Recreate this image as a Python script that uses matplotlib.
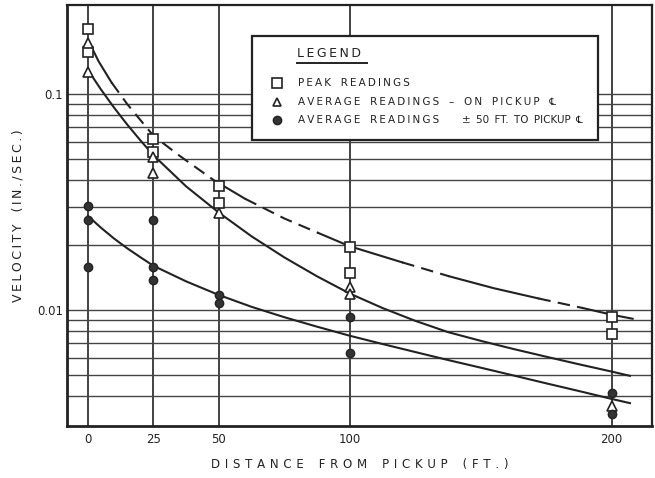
import matplotlib
matplotlib.use('Agg')
import matplotlib.pyplot as plt
from matplotlib.patches import Rectangle

# readings (distance ft, velocity in/sec)
peak_x = [0, 0, 25, 25, 50, 50, 100, 100, 200, 200]
peak_v = [0.200, 0.156, 0.062, 0.054, 0.0375, 0.0312, 0.0195, 0.0148, 0.0093, 0.0077]

avg_on_x = [0, 0, 25, 25, 50, 100, 100, 200]
avg_on_v = [0.172, 0.126, 0.051, 0.043, 0.0281, 0.0128, 0.0119, 0.0036]

avg_off_x = [0, 0, 0, 25, 25, 25, 50, 50, 100, 100, 200, 200]
avg_off_v = [0.0303, 0.0261, 0.0158, 0.0261, 0.0158, 0.0138, 0.0117, 0.0108,
             0.0093, 0.0063, 0.00414, 0.0033]

# fitted curves
peak_curve_x = [0, 4, 9, 15, 25, 35, 48, 60, 75, 88, 100, 120, 138, 155, 172, 189, 200, 208]
peak_curve_v = [0.178, 0.142, 0.113, 0.0897, 0.064, 0.0517, 0.0399, 0.0327, 0.0265,
                0.0227, 0.0197, 0.0166, 0.0143, 0.0126, 0.0113, 0.0102, 0.0095, 0.0091]
# (first index, last index, dashed?)
peak_segments = [(0, 2, False), (2, 6, True), (6, 7, False), (7, 9, True),
                 (9, 11, False), (11, 12, True), (12, 14, False), (14, 15, True),
                 (15, 17, False)]

mid_curve_x = [0, 5, 10, 15, 20, 25, 37.5, 50, 62.5, 75, 87.5, 100, 112.5, 125,
               137.5, 150, 162.5, 175, 187.5, 200, 207]
mid_curve_v = [0.1291, 0.1047, 0.0863, 0.0721, 0.0610, 0.0520, 0.0373, 0.0282,
               0.0219, 0.0175, 0.0143, 0.0119, 0.0102, 0.00890, 0.00789, 0.00719,
               0.00659, 0.00607, 0.00560, 0.00518, 0.00495]

low_curve_x = [0, 5, 10, 15, 20, 25, 37.5, 50, 62.5, 75, 87.5, 100, 112.5, 125,
               137.5, 150, 162.5, 175, 187.5, 200, 207]
low_curve_v = [0.02723, 0.02399, 0.02138, 0.01928, 0.01754, 0.01600, 0.01355, 0.01172,
               0.01033, 0.00925, 0.00836, 0.00759, 0.00695, 0.00638, 0.00586, 0.00540,
               0.00497, 0.00457, 0.00421, 0.00387, 0.00370]

x_ticks = [0, 25, 50, 100, 200]
y_major = [0.01, 0.1]
y_major_labels = ['0.01', '0.1']
y_minor = [0.004, 0.005, 0.006, 0.007, 0.008, 0.009,
           0.02, 0.03, 0.04, 0.05, 0.06, 0.07, 0.08, 0.09]

legend_labels = [('PEAK READINGS', ''),
                 ('AVERAGE READINGS \u2013 ON PICKUP \u2104', ''),
                 ('AVERAGE READINGS', '\u00b1 50 FT. TO PICKUP \u2104')]

ink = '#222222'


def spaced(s, gap='\u2009', word='   '):
    # letter spaced lettering like the original drafting stencil
    return word.join(gap.join(w) for w in s.split(' '))


fig = plt.figure(figsize=(6.55, 4.78), dpi=100)
ax = fig.add_axes([0.1023, 0.1088, 0.8931, 0.8807])

ax.set_yscale('log')
ax.set_xlim(-8, 215.4)
ax.set_ylim(0.0029, 0.258)

ax.set_xticks(x_ticks)
ax.set_xticklabels([str(t) for t in x_ticks])
ax.set_yticks(y_major)
ax.set_yticklabels(y_major_labels)
ax.set_yticks(y_minor, minor=True)
ax.yaxis.set_minor_formatter(plt.NullFormatter())
ax.tick_params(which='both', length=0, labelsize=8.5, colors=ink, pad=5)
ax.tick_params(axis='y', pad=3)

ax.grid(axis='y', which='both', color='#444444', linewidth=1.0)
ax.grid(axis='x', which='major', color=ink, linewidth=1.2)
ax.set_axisbelow(True)

for side in ['left', 'bottom']:
    ax.spines[side].set_linewidth(2.0)
for side in ['top', 'right']:
    ax.spines[side].set_linewidth(1.6)
for sp in ax.spines.values():
    sp.set_color(ink)

# curves
for i0, i1, dashed in peak_segments:
    ax.plot(peak_curve_x[i0:i1 + 1], peak_curve_v[i0:i1 + 1], color=ink, lw=1.5,
            linestyle=(0, (6, 3.5)) if dashed else '-', zorder=3)
ax.plot(mid_curve_x, mid_curve_v, color=ink, lw=1.5, zorder=3)
ax.plot(low_curve_x, low_curve_v, color=ink, lw=1.5, zorder=3)

# points
ax.plot(peak_x, peak_v, linestyle='none', marker='s', ms=7, mfc='white', mec=ink, mew=1.2, zorder=4)
ax.plot(avg_on_x, avg_on_v, linestyle='none', marker='^', ms=7, mfc='white', mec=ink, mew=1.2, zorder=4)
ax.plot(avg_off_x, avg_off_v, linestyle='none', marker='o', ms=6, mfc='#333333', mec=ink, mew=1.0, zorder=4)

# legend box
ax.add_patch(Rectangle((0.316, 0.679), 0.592, 0.247, transform=ax.transAxes,
                       facecolor='white', edgecolor=ink, lw=1.6, zorder=5))
ax.text(0.393, 0.886, spaced('LEGEND'), transform=ax.transAxes, fontsize=9,
        color=ink, va='center', ha='left', zorder=6)
ax.plot([0.393, 0.513], [0.862, 0.862], transform=ax.transAxes, color=ink, lw=1.4, zorder=6)

legend_y = [0.815, 0.770, 0.727]
legend_marks = [dict(marker='s', ms=6.5, mfc='white', mew=1.2),
                dict(marker='^', ms=5.5, mfc='white', mew=1.2),
                dict(marker='o', ms=6, mfc='#333333', mew=1.0)]
for y, (lab, tail), mk in zip(legend_y, legend_labels, legend_marks):
    ax.plot([0.359], [y], transform=ax.transAxes, linestyle='none', mec=ink, zorder=6, **mk)
    txt = spaced(lab, word='   ')
    if tail:
        txt += '       ' + spaced(tail, gap='', word=' \u2009')
    ax.text(0.395, y, txt, transform=ax.transAxes, fontsize=7.5, color=ink,
            va='center', ha='left', zorder=6)

ax.set_xlabel(spaced('DISTANCE FROM PICKUP (FT.)', gap='\u2009\u2009', word='    '),
              fontsize=8.5, color=ink, labelpad=9)
ax.set_ylabel(spaced('VELOCITY (IN./SEC.)'), fontsize=9, color=ink, labelpad=9)

fig.savefig('out.png', dpi=100, facecolor='white')
